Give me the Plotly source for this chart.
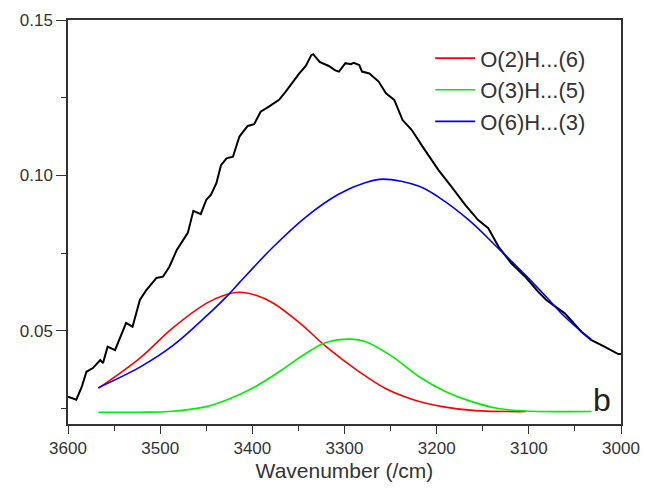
import plotly.graph_objects as go

# measured spectrum (black)
wn_meas = [3600, 3591, 3585, 3580, 3573, 3565, 3562, 3557, 3549, 3537, 3530, 3522,
           3515, 3504, 3497, 3490, 3482, 3475, 3470, 3464, 3456, 3450, 3445, 3439,
           3434, 3428, 3421, 3414, 3405, 3398, 3391, 3382, 3371, 3364, 3356, 3349,
           3342, 3336, 3334, 3327, 3317, 3310, 3306, 3299, 3293, 3290, 3284, 3281,
           3273, 3263, 3255, 3246, 3237, 3227, 3214, 3198, 3184, 3169, 3155, 3144,
           3133, 3119, 3104, 3090, 3081, 3061, 3043, 3032, 3018, 3003, 3000]
abs_meas = [0.0288, 0.0278, 0.0320, 0.0368, 0.0380, 0.0406, 0.0396, 0.0449, 0.0438, 0.0525, 0.0513, 0.0599,
            0.0631, 0.0670, 0.0674, 0.0706, 0.0760, 0.0792, 0.0815, 0.0886, 0.0875, 0.0921, 0.0937, 0.0975,
            0.1033, 0.1055, 0.1060, 0.1125, 0.1159, 0.1165, 0.1205, 0.1221, 0.1243, 0.1269, 0.1302, 0.1328,
            0.1352, 0.1387, 0.1390, 0.1365, 0.1352, 0.1338, 0.1334, 0.1361, 0.1358, 0.1362, 0.1355, 0.1334,
            0.1328, 0.1302, 0.1264, 0.1243, 0.1178, 0.1146, 0.1087, 0.1017, 0.0964, 0.0905, 0.0856, 0.0830,
            0.0771, 0.0717, 0.0674, 0.0626, 0.0599, 0.0556, 0.0497, 0.0470, 0.0449, 0.0425, 0.0425]

# fitted components
wn_red = [3567, 3522, 3486, 3450, 3432, 3414, 3396, 3378, 3349, 3320, 3284, 3256, 3227, 3194, 3158, 3103]
abs_red = [0.0315, 0.0412, 0.0510, 0.0588, 0.0613, 0.0624, 0.0614, 0.0590, 0.0526, 0.0449, 0.0368, 0.0315,
           0.0280, 0.0256, 0.0243, 0.0240]

wn_green = [3567, 3522, 3490, 3450, 3428, 3400, 3371, 3342, 3320, 3293, 3277, 3248, 3219, 3190, 3162, 3133,
            3104, 3032]
abs_green = [0.0238, 0.0238, 0.0240, 0.0256, 0.0277, 0.0315, 0.0368, 0.0427, 0.0462, 0.0473, 0.0465, 0.0417,
             0.0352, 0.0304, 0.0272, 0.0250, 0.0242, 0.0240]

wn_blue = [3567, 3522, 3486, 3450, 3428, 3414, 3378, 3342, 3306, 3277, 3258, 3219, 3198, 3165, 3133, 3104,
           3082, 3061, 3032]
abs_blue = [0.0317, 0.0383, 0.0453, 0.0547, 0.0610, 0.0655, 0.0768, 0.0866, 0.0940, 0.0977, 0.0988, 0.0965,
            0.0930, 0.0856, 0.0765, 0.0680, 0.0612, 0.0545, 0.0470]

names = ["O(2)H...(6)", "O(3)H...(5)", "O(6)H...(3)"]

fig = go.Figure()
fig.add_trace(go.Scatter(x=wn_meas, y=abs_meas, mode="lines",
                         line=dict(color="black", width=2), showlegend=False))
fig.add_trace(go.Scatter(x=wn_red, y=abs_red, mode="lines", line_shape="spline",
                         line=dict(color="#ff0000", width=1.6), name=names[0]))
fig.add_trace(go.Scatter(x=wn_green, y=abs_green, mode="lines", line_shape="spline",
                         line=dict(color="#00ee00", width=1.6), name=names[1]))
fig.add_trace(go.Scatter(x=wn_blue, y=abs_blue, mode="lines", line_shape="spline",
                         line=dict(color="#0000ff", width=1.6), name=names[2]))

fig.add_annotation(x=3021, y=0.0276, text="b", showarrow=False,
                   font=dict(size=32, color="#222"))

fig.update_layout(width=645, height=488,
    margin=dict(l=68, r=24, t=20, b=64),
    paper_bgcolor="white", plot_bgcolor="white",
    font=dict(family="Liberation Sans, Arial", size=17, color="#333"),
    legend=dict(x=0.655, y=0.957, xanchor="left", yanchor="top",
                bgcolor="rgba(0,0,0,0)", font=dict(size=22, color="#333"),
                tracegroupgap=0, itemwidth=40),
    showlegend=True)

fig.update_xaxes(range=[3600, 3000], tickvals=[3600, 3500, 3400, 3300, 3200, 3100, 3000],
    automargin=False, ticklabeloverflow="allow",
    ticks="outside", ticklen=8, tickcolor="#333", showline=True, linecolor="#333", linewidth=1.5,
    mirror=True, showgrid=False, zeroline=False,
    minor=dict(dtick=50, ticks="outside", ticklen=5, tickcolor="#333"),
    title=dict(text="Wavenumber (/cm)", font=dict(size=21), standoff=6))
fig.update_yaxes(range=[0.02, 0.15], tickvals=[0.05, 0.10, 0.15], ticktext=["0.05", "0.10", "0.15"],
    automargin=False,
    ticks="outside", ticklen=10, tickcolor="#333", showline=True, linecolor="#333", linewidth=1.5,
    mirror=True, showgrid=False, zeroline=False,
    minor=dict(dtick=0.025, ticks="outside", ticklen=5, tickcolor="#333"))

# drop the default page margin so the figure sits at the window corner
fig.write_html("out.html", config={"displayModeBar": False},
               post_script="document.body.style.margin='0';document.body.style.overflow='hidden';")
